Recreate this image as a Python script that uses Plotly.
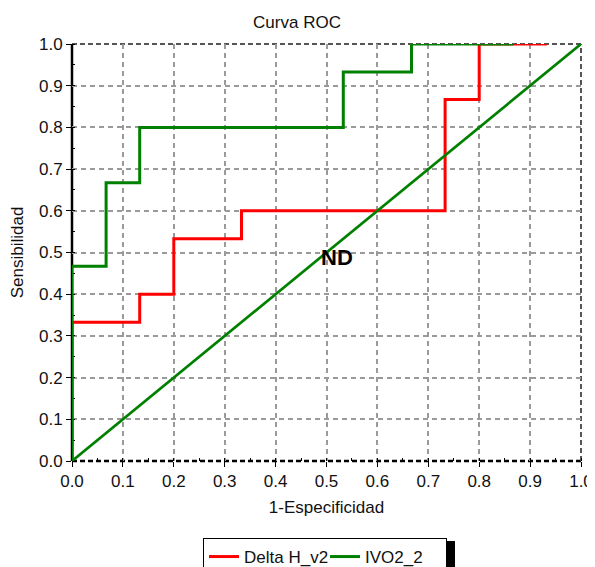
import plotly.graph_objects as go

# Data (step vertices, drawn with hv steps)
red_name = "Delta H_v2"
red_fpr = [0.0, 0.0, 0.133, 0.2, 0.333, 0.733, 0.8, 0.933]
red_tpr = [0.0, 0.333, 0.4, 0.533, 0.6, 0.867, 1.0, 1.0]

green_name = "IVO2_2"
green_fpr = [0.0, 0.0, 0.067, 0.133, 0.533, 0.667, 0.867]
green_tpr = [0.0, 0.467, 0.667, 0.8, 0.933, 1.0, 1.0]

diag_x = [0.0, 1.0]
diag_y = [0.0, 1.0]

tick_vals = [0.0, 0.1, 0.2, 0.3, 0.4, 0.5, 0.6, 0.7, 0.8, 0.9, 1.0]
tick_text = ["0.0", "0.1", "0.2", "0.3", "0.4", "0.5", "0.6", "0.7", "0.8", "0.9", "1.0"]

RED = "#ff0000"
GREEN = "#008000"
FONT = "Liberation Sans"
TXT = "#111111"
FS = 17

# page body has an 8px margin, so the figure is sized to fit the window
W, H = 587, 559
ML, MR, MT = 64, 14, 36
PW = W - ML - MR          # 509
PH = 417
MB = H - MT - PH          # 106
PB = MT + PH              # plot bottom in figure pixels


def px_x(p):
    return (p - ML) / PW


def px_y(p):
    return (PB - p) / PH


fig = go.Figure()
fig.add_trace(go.Scatter(x=red_fpr, y=red_tpr, mode="lines", name=red_name,
                         line=dict(color=RED, width=3, shape="hv"), cliponaxis=False))
fig.add_trace(go.Scatter(x=green_fpr, y=green_tpr, mode="lines", name=green_name,
                         line=dict(color=GREEN, width=3, shape="hv"), cliponaxis=False))
fig.add_trace(go.Scatter(x=diag_x, y=diag_y, mode="lines", showlegend=False,
                         line=dict(color=GREEN, width=2.7), cliponaxis=False))

axis_common = dict(
    range=[0, 1], tickvals=tick_vals, ticktext=tick_text,
    showgrid=True, gridcolor="#9a9a9a", griddash="5px,4px", gridwidth=1.5,
    zeroline=False, showline=False, automargin=False,
    ticks="outside", ticklen=5, tickcolor="black", tickwidth=1,
    minor=dict(dtick=0.05, ticks="inside", ticklen=3, tickcolor="black", showgrid=False),
    tickfont=dict(family=FONT, size=FS, color=TXT),
    layer="below traces", fixedrange=True,
)

fig.update_layout(
    width=W, height=H,
    margin=dict(l=ML, r=MR, t=MT, b=MB, autoexpand=False),
    paper_bgcolor="white", plot_bgcolor="white",
    title=dict(text="Curva ROC", x=289 / W, xref="container", xanchor="center",
               y=1 - 14 / H, yref="container", yanchor="middle",
               font=dict(family=FONT, size=FS, color=TXT)),
    xaxis=dict(axis_common, title=dict(text="1-Especificidad", standoff=10,
               font=dict(family=FONT, size=FS, color=TXT))),
    yaxis=dict(axis_common, title=dict(text="Sensibilidad", standoff=11,
               font=dict(family=FONT, size=FS, color=TXT))),
    showlegend=True,
    legend=dict(orientation="h", x=px_x(195), xanchor="left", y=px_y(530), yanchor="top",
                bgcolor="white", bordercolor="black", borderwidth=1,
                font=dict(family=FONT, size=FS, color=TXT),
                entrywidth=76, entrywidthmode="pixels", itemwidth=30),
    annotations=[dict(x=0.52, y=0.487, xref="x", yref="y", text="<b>ND</b>",
                      showarrow=False, font=dict(family=FONT, size=22, color="black"))],
    shapes=[
        # frame
        dict(type="line", xref="paper", yref="paper", x0=0, x1=0, y0=0, y1=1,
             line=dict(color="black", width=2.5), layer="between"),
        dict(type="line", xref="paper", yref="paper", x0=0, x1=1, y0=0, y1=0,
             line=dict(color="black", width=2.5, dash="5px,3px"), layer="between"),
        dict(type="line", xref="paper", yref="paper", x0=0, x1=1, y0=1, y1=1,
             line=dict(color="#555555", width=2, dash="5px,3px"), layer="between"),
        dict(type="line", xref="paper", yref="paper", x0=1, x1=1, y0=0, y1=1,
             line=dict(color="#555555", width=2, dash="5px,3px"), layer="between"),
        # legend shadow
        dict(type="rect", xref="paper", yref="paper",
             x0=px_x(439), x1=px_x(447), y0=px_y(H), y1=px_y(533),
             fillcolor="black", line=dict(width=0), layer="above"),
    ],
)

fig.write_html("out.html")
